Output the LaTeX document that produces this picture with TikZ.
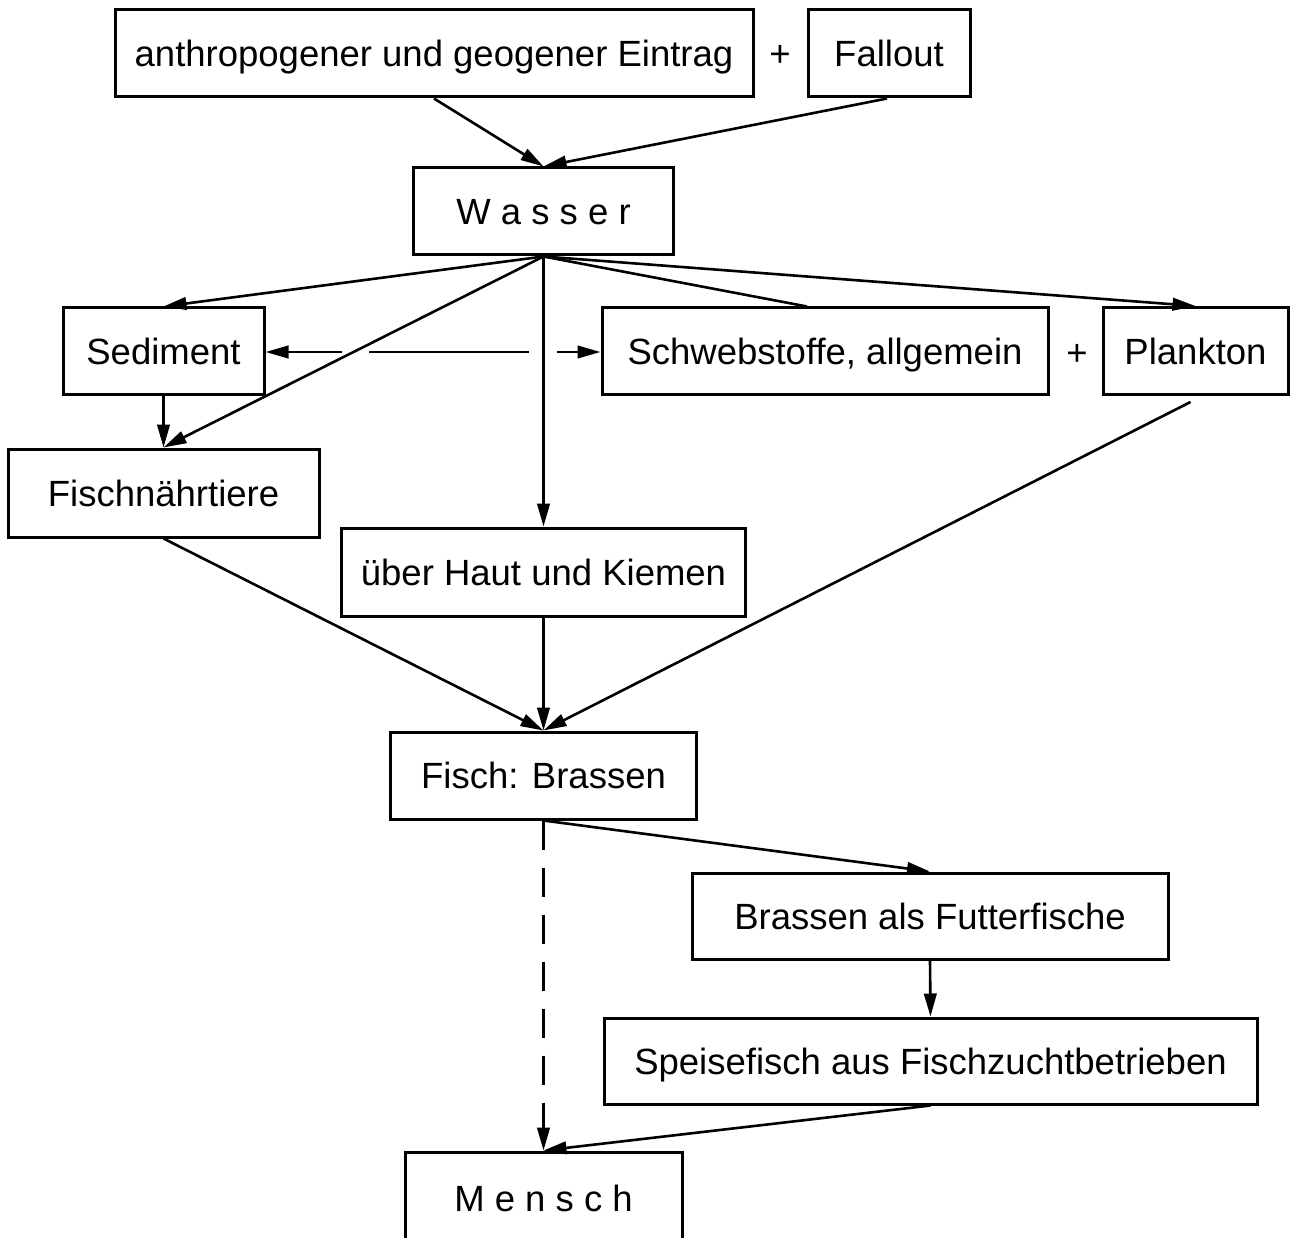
\documentclass[tikz,border=0pt]{standalone}
\usepackage{fontspec}
\setmainfont{Liberation Sans}
\usetikzlibrary{arrows.meta,calc}
\begin{document}
\begin{tikzpicture}[x=1pt,y=-1pt,
  box/.style={draw,line width=3pt,rectangle,inner sep=0pt,text height=26pt,text depth=0pt,font=\fontsize{36.5}{43}\selectfont},
  lbl/.style={inner sep=0pt,text height=26pt,text depth=0pt,font=\fontsize{36.5}{43}\selectfont},
  conn/.style={line width=2.6pt},
  arr/.style={conn,-{Triangle[length=23pt,width=12.5pt]}},
  dashline/.style={arr,dash pattern=on 29pt off 18pt}]
\useasboundingbox (0,0) rectangle (1292,1238);
\clip (0,0) rectangle (1292,1238);
\fill[white] (0,0) rectangle (1292,1238);
% nodes
\node[box,minimum width=638pt,minimum height=87pt] (eintrag) at (434,53.5) {anthropogener und geogener Eintrag};
\node[lbl] (plus1) at (780,53.5) {+};
\node[box,minimum width=162pt,minimum height=87pt] (fallout) at (889,53.5) {Fallout};
\node[box,minimum width=260pt,minimum height=87pt] (wasser) at (543.5,211.5) {W a s s e r};
\node[box,minimum width=201pt,minimum height=86pt] (sediment) at (163.5,351) {Sediment};
\node[box,minimum width=446pt,minimum height=86pt] (schweb) at (825,351) {Schwebstoffe, allgemein};
\node[lbl] (plus2) at (1077,352) {+};
\node[box,minimum width=185pt,minimum height=87pt] (plankton) at (1195.5,351) {Plankton};
\node[box,minimum width=311pt,minimum height=88pt] (fischn) at (163.5,493) {Fischnährtiere};
\node[box,minimum width=404pt,minimum height=88pt] (haut) at (543.5,572) {über Haut und Kiemen};
\node[box,minimum width=306pt,minimum height=87pt] (fisch) at (543.5,775.5) {Fisch: Brassen};
\node[box,minimum width=476pt,minimum height=86pt] (futter) at (930,916) {Brassen als Futterfische};
\node[box,minimum width=653pt,minimum height=86pt] (speise) at (930.5,1061) {Speisefisch aus Fischzuchtbetrieben};
\node[box,minimum width=277pt,minimum height=92pt] (mensch) at (543.5,1198) {M e n s c h};
% connectors
\draw[arr] (eintrag.south) -- (wasser.north);
\draw[arr] ([xshift=-2pt]fallout.south) -- (wasser.north);
\draw[arr] (wasser.south) -- (sediment.north);
\draw[arr] (wasser.south) -- (fischn.north);
\draw[arr] (wasser.south) -- (haut.north);
\draw[conn] (wasser.south) -- ([xshift=-18pt]schweb.north);
\draw[arr] (wasser.south) -- (plankton.north);
% horizontal line with gaps
\coordinate (h1) at (342,352);
\coordinate (h2) at (369,352);
\coordinate (h3) at (529,352);
\coordinate (h4) at (557,352);
\draw[arr] (h1) -- (sediment.east |- h1);
\draw[conn] (h2) -- (h3);
\draw[arr] (h4) -- (schweb.west |- h4);
%
\draw[arr] (sediment.south) -- (fischn.north);
\draw[arr] (fischn.south) -- (fisch.north);
\draw[arr] (haut.south) -- (fisch.north);
\draw[arr] ([xshift=-5pt,yshift=-6pt]plankton.south) -- (fisch.north);
\draw[arr] (fisch.south) -- (futter.north);
\draw[arr] (futter.south) -- (speise.north);
\draw[arr] (speise.south) -- (mensch.north);
\draw[dashline] (fisch.south) -- (mensch.north);
\end{tikzpicture}
\end{document}
